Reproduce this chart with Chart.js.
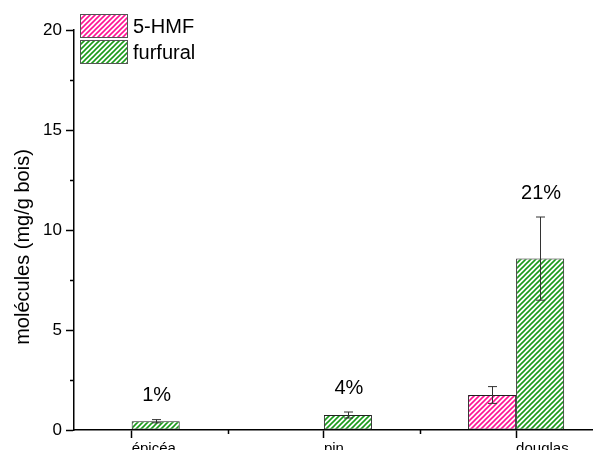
<!DOCTYPE html>
<html>
<head>
<meta charset="utf-8">
<script src="https://cdn.jsdelivr.net/npm/chart.js@4/dist/chart.umd.min.js"></script>
<style>
html,body{margin:0;padding:0;background:#fff;overflow:hidden;}
canvas{display:block;}
</style>
</head>
<body>
<canvas id="c" width="593" height="450"></canvas>
<script>
// ---- data ----
const categories = ['épicéa', 'pin', 'douglas'];
const hmfValues = [null, null, 1.75];
const hmfErrors = [null, null, 0.42];
const furfuralValues = [0.44, 0.75, 8.57];
const furfuralErrors = [0.08, 0.15, 2.08];
const percentLabels = ['1%', '4%', '21%'];
const yTicks = [0, 5, 10, 15, 20];
const yMinorTicks = [2.5, 7.5, 12.5, 17.5];
const xMinorTicks = [1.5, 2.5];
const seriesNames = ['5-HMF', 'furfural'];
const yTitle = 'molécules (mg/g bois)';

const FONT = '"Liberation Sans", Arial, sans-serif';

function hatch(color) {
  const s = 5;
  const c = document.createElement('canvas');
  c.width = s; c.height = s;
  const g = c.getContext('2d');
  g.fillStyle = '#ffffff';
  g.fillRect(0, 0, s, s);
  g.strokeStyle = color;
  g.lineWidth = 1.6;
  g.beginPath();
  g.moveTo(0, s); g.lineTo(s, 0);
  g.moveTo(-1, 1); g.lineTo(1, -1);
  g.moveTo(s - 1, s + 1); g.lineTo(s + 1, s - 1);
  g.stroke();
  return g.createPattern(c, 'repeat');
}
const ctx0 = document.getElementById('c').getContext('2d');
const pinkPattern = hatch('#ff1493');
const greenPattern = hatch('#1a9a1a');

const toPoints = vals => vals.map((v, i) => ({x: i + 1, y: v}));

const errorBars = {
  id: 'errorBars',
  afterDatasetsDraw(chart) {
    const ctx = chart.ctx, y = chart.scales.y;
    const errs = [hmfErrors, furfuralErrors];
    const vals = [hmfValues, furfuralValues];
    ctx.save();
    ctx.strokeStyle = '#333';
    ctx.lineWidth = 1;
    for (let d = 0; d < 2; d++) {
      const meta = chart.getDatasetMeta(d);
      meta.data.forEach((el, i) => {
        if (vals[d][i] == null || errs[d][i] == null) return;
        const x = Math.round(el.x) + 0.5;
        const t = y.getPixelForValue(vals[d][i] + errs[d][i]);
        const b = y.getPixelForValue(vals[d][i] - errs[d][i]);
        ctx.beginPath();
        ctx.moveTo(x, t); ctx.lineTo(x, b);
        ctx.moveTo(x - 4.5, t); ctx.lineTo(x + 4.5, t);
        ctx.moveTo(x - 4.5, b); ctx.lineTo(x + 4.5, b);
        ctx.stroke();
      });
    }
    // percentage labels above furfural bars
    ctx.fillStyle = '#000';
    ctx.font = '20px ' + FONT;
    ctx.textAlign = 'center';
    ctx.textBaseline = 'middle';
    const meta = chart.getDatasetMeta(1);
    meta.data.forEach((el, i) => {
      const top = y.getPixelForValue(furfuralValues[i] + (furfuralErrors[i] || 0));
      ctx.fillText(percentLabels[i], el.x + 1, top - 24);
    });
    ctx.restore();
  }
};

const extras = {
  id: 'extras',
  afterDraw(chart) {
    const ctx = chart.ctx, x = chart.scales.x, y = chart.scales.y;
    const area = chart.chartArea;
    ctx.save();
    ctx.strokeStyle = '#000';
    ctx.lineWidth = 1.5;
    ctx.beginPath();
    yMinorTicks.forEach(v => {
      const p = Math.round(y.getPixelForValue(v)) + 0.5;
      ctx.moveTo(area.left - 4, p); ctx.lineTo(area.left, p);
    });
    xMinorTicks.forEach(v => {
      const p = Math.round(x.getPixelForValue(v)) + 0.5;
      ctx.moveTo(p, area.bottom); ctx.lineTo(p, area.bottom + 4);
    });
    ctx.stroke();
    // y title
    ctx.fillStyle = '#000';
    ctx.font = '20px ' + FONT;
    ctx.textAlign = 'center';
    ctx.textBaseline = 'middle';
    ctx.translate(23, 247);
    ctx.rotate(-Math.PI / 2);
    ctx.fillText(yTitle, 0, 0);
    ctx.restore();
    // legend
    ctx.save();
    const patterns = [pinkPattern, greenPattern];
    chart.data.datasets.forEach((ds, i) => {
      const bx = 80.5, by = 14.5 + i * 26, bw = 47, bh = 23;
      ctx.fillStyle = patterns[i];
      ctx.fillRect(bx, by, bw, bh);
      ctx.strokeStyle = '#555';
      ctx.lineWidth = 1;
      ctx.strokeRect(bx, by, bw, bh);
      ctx.fillStyle = '#000';
      ctx.font = '20px ' + FONT;
      ctx.textAlign = 'left';
      ctx.textBaseline = 'middle';
      ctx.fillText(ds.label, 133, by + bh / 2 + 1);
    });
    ctx.restore();
  }
};

new Chart(ctx0, {
  type: 'bar',
  data: {
    datasets: [
      {
        label: seriesNames[0],
        data: toPoints(hmfValues),
        backgroundColor: pinkPattern,
        borderColor: '#222',
        borderWidth: 1,
        borderSkipped: false
      },
      {
        label: seriesNames[1],
        data: toPoints(furfuralValues),
        backgroundColor: greenPattern,
        borderColor: '#222',
        borderWidth: 1,
        borderSkipped: false
      }
    ]
  },
  options: {
    responsive: false,
    animation: false,
    categoryPercentage: 0.5,
    barPercentage: 1.0,
    layout: {padding: {top: 30, right: 0, left: 0, bottom: 0}},
    plugins: {legend: {display: false}, tooltip: {enabled: false}},
    scales: {
      x: {
        type: 'linear',
        min: 0.7,
        max: 3.4,
        offset: false,
        afterBuildTicks: s => { s.ticks = categories.map((c, i) => ({value: i + 1})); },
        afterFit: s => { s.height = 20; },
        ticks: {
          align: 'start',
          padding: 2,
          color: '#000',
          font: {family: FONT, size: 15},
          callback: v => categories[Math.round(v) - 1]
        },
        grid: {offset: false, drawOnChartArea: false, tickLength: 8, tickColor: '#000', tickWidth: 1.5},
        border: {display: true, color: '#000', width: 1.5}
      },
      y: {
        type: 'linear',
        min: 0,
        max: 20,
        afterBuildTicks: s => { s.ticks = yTicks.map(v => ({value: v})); },
        afterFit: s => { s.width = 74; },
        ticks: {
          padding: 4,
          color: '#000',
          font: {family: FONT, size: 17},
          callback: v => String(v)
        },
        grid: {drawOnChartArea: false, tickLength: 8, tickColor: '#000', tickWidth: 1.5},
        border: {display: true, color: '#000', width: 1.5}
      }
    }
  },
  plugins: [errorBars, extras]
});
</script>
</body>
</html>
